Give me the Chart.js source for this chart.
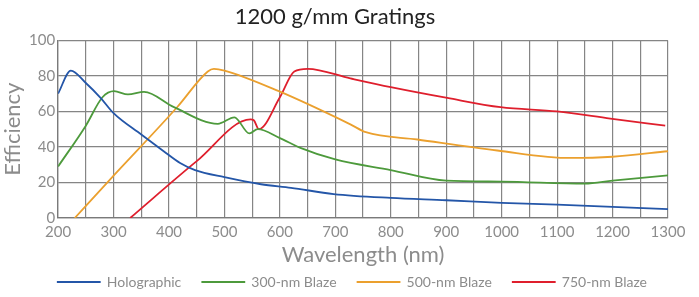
<!DOCTYPE html>
<html lang="en">
<head>
  <meta charset="UTF-8">
  <title>1200 g/mm Gratings</title>
  <script src="https://cdn.jsdelivr.net/npm/chart.js@4.4.0/dist/chart.umd.min.js"></script>
  <style>
    body { margin: 0; background: #fff; }
    #wrap { width: 699px; height: 297px; }
  </style>
</head>
<body>
  <div id="wrap"><canvas id="chart" width="699" height="297"></canvas></div>
  <script>

// wavelength (nm) / efficiency (%)
const holoX = [200, 223, 250, 277, 300, 350, 391, 420, 447, 500, 566, 620, 697, 800, 900, 1000, 1100, 1200, 1300];
const holoY = [70, 83, 76, 67.5, 59, 47, 37.5, 31, 27, 23, 19, 17, 13.5, 11.3, 10, 8.5, 7.5, 6.3, 5];

const blaze300X = [200, 250, 280, 301, 326, 355, 409, 488, 518, 545, 560, 600, 637, 700, 800, 900, 1000, 1150, 1200, 1300];
const blaze300Y = [29, 52, 68, 71.4, 69.6, 71, 62.4, 53, 56.7, 47.6, 50, 45, 39.5, 33, 27, 21, 20.5, 19.3, 21, 24];

const blaze500X = [230, 294, 415, 470, 481, 500, 598, 728, 755, 848, 992, 1124, 1200, 1300];
const blaze500Y = [0, 21.8, 62.5, 82.5, 84, 83, 71.4, 52.6, 48.3, 44.2, 38, 33.8, 34.5, 37.6];

const blaze750X = [330, 450, 547, 553, 562, 600, 626, 650, 727, 800, 902, 998, 1100, 1196, 1295];
const blaze750Y = [0, 32, 55.5, 55, 50, 68, 82.5, 84, 78.6, 73.7, 67.6, 62.4, 60, 56, 52];

const seriesNames = ['Holographic', '300-nm Blaze', '500-nm Blaze', '750-nm Blaze'];
const seriesColors = ['#2456a8', '#4d9a3c', '#eba02e', '#df1f2d'];

function pts(xs, ys) {
  return xs.map((x, i) => ({ x: x, y: ys[i] }));
}

const allData = [pts(holoX, holoY), pts(blaze300X, blaze300Y), pts(blaze500X, blaze500Y), pts(blaze750X, blaze750Y)];

const gray = '#8c8c8c';
const font = 'Lato';

new Chart(document.getElementById('chart').getContext('2d'), {
  type: 'line',
  data: {
    datasets: allData.map((d, i) => ({
      label: seriesNames[i],
      data: d,
      borderColor: seriesColors[i],
      backgroundColor: seriesColors[i],
      borderWidth: 1.8,
      pointRadius: 0,
      fill: false,
      cubicInterpolationMode: 'monotone'
    }))
  },
  options: {
    responsive: false,
    animation: false,
    layout: { padding: { left: 2, right: 31, top: 4, bottom: 0 } },
    plugins: {
      title: {
        display: true,
        text: '1200 g/mm Gratings',
        color: '#222',
        font: { family: font, size: 22, weight: 'normal' },
        padding: { top: 0, bottom: 10 }
      },
      legend: {
        position: 'bottom',
        align: 'end',
        maxHeight: 43,
        labels: {
          boxWidth: 42,
          boxHeight: 0.3,
          color: gray,
          padding: 21,
          font: { family: font, size: 14 }
        }
      },
      tooltip: { enabled: false }
    },
    scales: {
      x: {
        type: 'linear',
        min: 200,
        max: 1300,
        ticks: {
          stepSize: 50,
          color: gray,
          font: { family: font, size: 15 },
          padding: 5,
          maxRotation: 0,
          autoSkip: false,
          callback: v => (v % 100 === 0 ? v : '')
        },
        grid: { color: '#858585', lineWidth: 1.2, drawTicks: false },
        border: { color: '#7a7a7a', width: 1.3 },
        title: {
          display: true,
          text: 'Wavelength (nm)',
          color: gray,
          font: { family: font, size: 22, lineHeight: 1 },
          padding: { top: -2, bottom: -12 }
        }
      },
      y: {
        min: 0,
        max: 100,
        ticks: {
          stepSize: 20,
          color: gray,
          font: { family: font, size: 15 },
          padding: 3
        },
        grid: { color: '#858585', lineWidth: 1.2, drawTicks: false },
        border: { color: '#7a7a7a', width: 1.3 },
        title: {
          display: true,
          text: 'Efficiency',
          color: gray,
          font: { family: font, size: 22, lineHeight: 1 },
          padding: { top: 0, bottom: 2 }
        }
      }
    }
  }
});
  </script>
</body>
</html>
